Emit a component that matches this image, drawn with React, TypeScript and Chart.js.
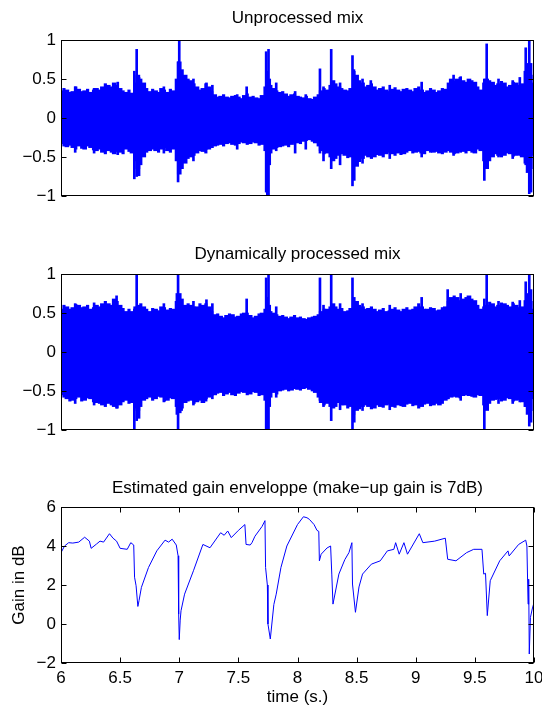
import React, { useEffect, useRef } from 'react';
import { Chart, registerables } from 'chart.js';

Chart.register(...registerables);

// ---------- data ----------
const sampleTimes = [
  6.00, 6.05, 6.10, 6.15, 6.20, 6.25, 6.30, 6.35, 6.40, 6.45,
  6.50, 6.55, 6.60, 6.65, 6.70, 6.75, 6.80, 6.85, 6.90, 6.95,
  7.00, 7.05, 7.10, 7.15, 7.20, 7.25, 7.30, 7.35, 7.40, 7.45,
  7.50, 7.55, 7.60, 7.65, 7.70, 7.75, 7.80, 7.85, 7.90, 7.95,
  8.00, 8.05, 8.10, 8.15, 8.20, 8.25, 8.30, 8.35, 8.40, 8.45,
  8.50, 8.55, 8.60, 8.65, 8.70, 8.75, 8.80, 8.85, 8.90, 8.95,
  9.00, 9.05, 9.10, 9.15, 9.20, 9.25, 9.30, 9.35, 9.40, 9.45,
  9.50, 9.55, 9.60, 9.65, 9.70, 9.75, 9.80, 9.85, 9.90, 9.95,
  10.00,
];
const midTimes = [
  6.025, 6.075, 6.125, 6.175, 6.225, 6.275, 6.325, 6.375, 6.425, 6.475,
  6.525, 6.575, 6.625, 6.675, 6.725, 6.775, 6.825, 6.875, 6.925, 6.975,
  7.025, 7.075, 7.125, 7.175, 7.225, 7.275, 7.325, 7.375, 7.425, 7.475,
  7.525, 7.575, 7.625, 7.675, 7.725, 7.775, 7.825, 7.875, 7.925, 7.975,
  8.025, 8.075, 8.125, 8.175, 8.225, 8.275, 8.325, 8.375, 8.425, 8.475,
  8.525, 8.575, 8.625, 8.675, 8.725, 8.775, 8.825, 8.875, 8.925, 8.975,
  9.025, 9.075, 9.125, 9.175, 9.225, 9.275, 9.325, 9.375, 9.425, 9.475,
  9.525, 9.575, 9.625, 9.675, 9.725, 9.775, 9.825, 9.875, 9.925, 9.975,
];

const unprocessedUpper = [
  0.35, 0.36, 0.34, 0.37, 0.35, 0.33, 0.38, 0.40, 0.42, 0.45,
  0.38, 0.33, 0.32, 0.55, 0.45, 0.34, 0.35, 0.38, 0.33, 0.35,
  0.72, 0.55, 0.48, 0.40, 0.38, 0.40, 0.30, 0.28, 0.27, 0.28,
  0.27, 0.29, 0.27, 0.26, 0.29, 0.45, 0.38, 0.33, 0.31, 0.30,
  0.28, 0.26, 0.25, 0.27, 0.35, 0.36, 0.48, 0.40, 0.36, 0.38,
  0.55, 0.45, 0.42, 0.40, 0.38, 0.36, 0.37, 0.36, 0.37, 0.36,
  0.38, 0.36, 0.35, 0.36, 0.35, 0.37, 0.50, 0.50, 0.48, 0.50,
  0.46, 0.36, 0.50, 0.46, 0.44, 0.45, 0.42, 0.45, 0.44, 0.70,
  0.45,
];
const unprocessedLower = [
  -0.33, -0.37, -0.38, -0.36, -0.40, -0.38, -0.42, -0.44, -0.42, -0.46,
  -0.44, -0.40, -0.45, -0.65, -0.50, -0.42, -0.42, -0.40, -0.42, -0.40,
  -0.72, -0.58, -0.50, -0.45, -0.43, -0.40, -0.36, -0.34, -0.33, -0.34,
  -0.33, -0.32, -0.33, -0.32, -0.34, -0.50, -0.40, -0.37, -0.35, -0.34,
  -0.32, -0.30, -0.28, -0.32, -0.42, -0.45, -0.55, -0.48, -0.48, -0.50,
  -0.62, -0.52, -0.50, -0.50, -0.48, -0.46, -0.46, -0.45, -0.46, -0.42,
  -0.44, -0.45, -0.42, -0.44, -0.45, -0.44, -0.44, -0.45, -0.43, -0.42,
  -0.45, -0.42, -0.65, -0.50, -0.48, -0.48, -0.46, -0.48, -0.50, -0.70,
  -0.48,
];
const unprocessedMidUpper = [
  0.38, 0.33, 0.40, 0.34, 0.37, 0.36, 0.36, 0.44, 0.40, 0.42,
  0.35, 0.36, 0.45, 0.50, 0.38, 0.37, 0.33, 0.36, 0.37, 0.50,
  0.62, 0.50, 0.44, 0.36, 0.44, 0.34, 0.27, 0.30, 0.26, 0.29,
  0.25, 0.31, 0.28, 0.25, 0.40, 0.42, 0.35, 0.34, 0.28, 0.31,
  0.27, 0.28, 0.24, 0.30, 0.38, 0.42, 0.44, 0.38, 0.35, 0.62,
  0.48, 0.40, 0.44, 0.36, 0.40, 0.34, 0.39, 0.34, 0.38, 0.34,
  0.40, 0.33, 0.38, 0.33, 0.38, 0.45, 0.47, 0.52, 0.46, 0.48,
  0.40, 0.45, 0.48, 0.42, 0.47, 0.40, 0.46, 0.42, 0.60, 0.55,
];
const unprocessedMidLower = [
  -0.36, -0.35, -0.40, -0.39, -0.36, -0.41, -0.40, -0.46, -0.44, -0.43,
  -0.46, -0.43, -0.55, -0.60, -0.44, -0.40, -0.44, -0.38, -0.44, -0.55,
  -0.65, -0.52, -0.48, -0.42, -0.45, -0.38, -0.35, -0.36, -0.32, -0.35,
  -0.31, -0.34, -0.31, -0.35, -0.42, -0.45, -0.38, -0.36, -0.37, -0.32,
  -0.33, -0.29, -0.30, -0.36, -0.46, -0.50, -0.52, -0.46, -0.51, -0.58,
  -0.56, -0.48, -0.52, -0.47, -0.50, -0.44, -0.48, -0.47, -0.44, -0.45,
  -0.43, -0.46, -0.44, -0.43, -0.46, -0.42, -0.46, -0.43, -0.45, -0.44,
  -0.40, -0.55, -0.55, -0.46, -0.50, -0.45, -0.49, -0.47, -0.58, -0.65,
];
const unprocessedPeakTimes = [
  6.12, 6.28, 6.48, 6.62, 6.64, 6.66, 6.87, 6.99, 7.00, 7.02,
  7.12, 7.23, 7.28, 7.49, 7.57, 7.735, 7.745, 7.755, 7.765, 7.82,
  7.98, 8.07, 8.19, 8.22, 8.285, 8.36, 8.465, 8.48, 8.55, 8.62,
  8.78, 9.05, 9.32, 9.38, 9.58, 9.60, 9.70, 9.82, 9.88, 9.93,
  9.96, 9.975,
];
const unprocessedPeakUpper = [
  0.40, 0.38, 0.46, 0.60, 0.88, 0.52, 0.40, 0.72, 1.00, 0.60,
  0.50, 0.45, 0.42, 0.30, 0.40, 0.85, 0.60, 0.88, 0.50, 0.45,
  0.34, 0.30, 0.63, 0.40, 0.88, 0.45, 0.80, 0.60, 0.50, 0.48,
  0.42, 0.46, 0.55, 0.53, 0.50, 0.95, 0.50, 0.48, 0.52, 0.90,
  1.00, 0.70,
];
const unprocessedPeakLower = [
  -0.44, -0.45, -0.47, -0.78, -0.75, -0.74, -0.45, -0.82, -0.70, -0.62,
  -0.55, -0.40, -0.38, -0.40, -0.30, -0.95, -1.00, -1.00, -0.60, -0.42,
  -0.45, -0.40, -0.45, -0.55, -0.65, -0.60, -0.87, -0.80, -0.58, -0.45,
  -0.52, -0.50, -0.48, -0.44, -0.80, -0.45, -0.50, -0.52, -0.48, -0.60,
  -0.97, -0.95,
];

const processedUpper = [
  0.55, 0.58, 0.57, 0.60, 0.58, 0.55, 0.60, 0.62, 0.62, 0.68,
  0.60, 0.52, 0.52, 0.58, 0.58, 0.52, 0.55, 0.58, 0.54, 0.55,
  0.75, 0.60, 0.60, 0.58, 0.60, 0.58, 0.48, 0.46, 0.47, 0.48,
  0.46, 0.50, 0.47, 0.46, 0.50, 0.55, 0.50, 0.46, 0.45, 0.45,
  0.44, 0.43, 0.44, 0.46, 0.52, 0.55, 0.62, 0.55, 0.52, 0.56,
  0.65, 0.58, 0.56, 0.55, 0.54, 0.52, 0.55, 0.54, 0.55, 0.54,
  0.58, 0.58, 0.55, 0.56, 0.54, 0.58, 0.70, 0.70, 0.68, 0.72,
  0.66, 0.55, 0.60, 0.62, 0.60, 0.62, 0.58, 0.60, 0.58, 0.75,
  0.55,
];
const processedLower = [
  -0.55, -0.60, -0.62, -0.58, -0.62, -0.60, -0.65, -0.68, -0.66, -0.70,
  -0.68, -0.62, -0.65, -0.75, -0.62, -0.58, -0.60, -0.58, -0.62, -0.60,
  -0.78, -0.65, -0.62, -0.64, -0.65, -0.58, -0.55, -0.52, -0.54, -0.55,
  -0.53, -0.52, -0.54, -0.52, -0.55, -0.60, -0.52, -0.50, -0.48, -0.49,
  -0.48, -0.47, -0.48, -0.52, -0.65, -0.66, -0.72, -0.65, -0.68, -0.70,
  -0.75, -0.70, -0.70, -0.72, -0.70, -0.68, -0.70, -0.68, -0.70, -0.66,
  -0.68, -0.70, -0.66, -0.68, -0.68, -0.62, -0.58, -0.58, -0.56, -0.56,
  -0.58, -0.56, -0.75, -0.62, -0.60, -0.62, -0.60, -0.62, -0.64, -0.80,
  -0.60,
];
const processedMidUpper = [
  0.60, 0.55, 0.61, 0.57, 0.60, 0.57, 0.58, 0.65, 0.60, 0.65,
  0.56, 0.55, 0.58, 0.62, 0.55, 0.56, 0.53, 0.57, 0.56, 0.65,
  0.68, 0.62, 0.58, 0.62, 0.62, 0.52, 0.49, 0.44, 0.49, 0.45,
  0.49, 0.50, 0.44, 0.49, 0.55, 0.52, 0.48, 0.47, 0.43, 0.47,
  0.45, 0.42, 0.45, 0.48, 0.55, 0.58, 0.58, 0.56, 0.53, 0.62,
  0.60, 0.55, 0.58, 0.52, 0.56, 0.53, 0.57, 0.52, 0.57, 0.55,
  0.62, 0.55, 0.57, 0.53, 0.57, 0.65, 0.72, 0.66, 0.70, 0.68,
  0.60, 0.58, 0.64, 0.58, 0.63, 0.60, 0.62, 0.57, 0.66, 0.65,
];
const processedMidLower = [
  -0.58, -0.63, -0.60, -0.63, -0.59, -0.64, -0.66, -0.70, -0.68, -0.72,
  -0.64, -0.66, -0.72, -0.70, -0.60, -0.62, -0.57, -0.63, -0.59, -0.70,
  -0.72, -0.63, -0.66, -0.62, -0.63, -0.56, -0.53, -0.56, -0.52, -0.56,
  -0.51, -0.55, -0.51, -0.56, -0.62, -0.58, -0.54, -0.49, -0.50, -0.47,
  -0.49, -0.46, -0.50, -0.58, -0.68, -0.70, -0.70, -0.68, -0.72, -0.80,
  -0.73, -0.68, -0.73, -0.68, -0.71, -0.67, -0.71, -0.69, -0.67, -0.69,
  -0.72, -0.67, -0.69, -0.66, -0.66, -0.60, -0.57, -0.59, -0.55, -0.57,
  -0.55, -0.68, -0.66, -0.61, -0.63, -0.59, -0.63, -0.61, -0.70, -0.75,
];
const processedPeakTimes = [
  6.12, 6.28, 6.47, 6.62, 6.64, 6.66, 6.87, 6.98, 6.99, 7.02,
  7.12, 7.23, 7.28, 7.57, 7.735, 7.745, 7.755, 7.765, 7.82, 8.19,
  8.22, 8.285, 8.36, 8.465, 8.48, 8.55, 8.78, 9.05, 9.27, 9.38,
  9.58, 9.60, 9.70, 9.82, 9.88, 9.93, 9.96, 9.975,
];
const processedPeakUpper = [
  0.62, 0.63, 0.72, 0.55, 1.00, 0.60, 0.62, 0.75, 1.00, 0.65,
  0.65, 0.67, 0.62, 0.68, 0.95, 0.70, 1.00, 0.60, 0.58, 0.95,
  0.60, 1.00, 0.62, 0.95, 0.70, 0.62, 0.60, 0.70, 0.80, 0.75,
  0.68, 1.00, 0.65, 0.64, 0.66, 0.90, 1.00, 0.80,
];
const processedPeakLower = [
  -0.66, -0.68, -0.72, -1.00, -0.88, -0.85, -0.64, -0.80, -1.00, -0.75,
  -0.68, -0.60, -0.60, -0.50, -1.00, -1.00, -1.00, -0.70, -0.58, -0.62,
  -0.70, -0.88, -0.74, -1.00, -0.90, -0.75, -0.74, -0.65, -0.60, -0.62,
  -1.00, -0.65, -0.66, -0.66, -0.64, -0.70, -0.95, -0.90,
];

const gainTimes = [
  6.0, 6.03, 6.065, 6.1, 6.15, 6.2, 6.24, 6.255, 6.3, 6.33,
  6.36, 6.41, 6.44, 6.47, 6.5, 6.56, 6.59, 6.615, 6.622, 6.635,
  6.65, 6.66, 6.68, 6.74, 6.81, 6.88, 6.91, 6.94, 6.975, 6.99,
  6.995, 7.0, 7.008, 7.015, 7.045, 7.12, 7.2, 7.26, 7.35, 7.38,
  7.41, 7.44, 7.5, 7.555, 7.565, 7.6, 7.615, 7.64, 7.7, 7.725,
  7.73, 7.745, 7.75, 7.77, 7.8, 7.82, 7.86, 7.91, 8.0, 8.05,
  8.08, 8.1, 8.14, 8.165, 8.18, 8.185, 8.2, 8.25, 8.28, 8.29,
  8.3, 8.35, 8.4, 8.435, 8.46, 8.465, 8.49, 8.52, 8.55, 8.625,
  8.7, 8.76, 8.815, 8.83, 8.86, 8.9, 8.93, 9.03, 9.06, 9.16,
  9.25, 9.27, 9.34, 9.43, 9.49, 9.56, 9.575, 9.59, 9.605, 9.63,
  9.71, 9.78, 9.79, 9.87, 9.93, 9.94, 9.95, 9.955, 9.96, 9.97,
  9.985, 10.0,
];
const gainDb = [
  3.66, 4.0, 4.17, 4.15, 4.2, 4.45, 4.25, 3.88, 4.1, 4.25,
  4.2, 4.63, 4.4, 4.25, 3.88, 3.83, 4.17, 4.05, 2.4, 1.96,
  0.9, 1.2, 1.88, 2.9, 3.75, 4.3, 4.2, 4.35, 4.05, 3.5,
  0.5, -0.8, 0.2, 0.68, 1.53, 2.73, 4.08, 3.91, 4.68, 4.55,
  4.77, 4.43, 4.8, 5.1, 4.08, 4.05, 4.17, 4.5, 5.0, 5.3,
  2.9, 2.0, 0.0, -0.77, 1.0, 1.53, 2.9, 4.0, 5.1, 5.5,
  5.45, 5.37, 5.1, 4.8, 4.75, 3.24, 3.58, 3.9, 4.0, 2.56,
  1.02, 2.56, 3.3, 3.66, 4.17, 2.05, 0.6, 1.9, 2.56, 3.07,
  3.24, 3.75, 3.83, 4.17, 3.58, 4.17, 3.58, 4.63, 4.17, 4.25,
  4.4, 3.32, 3.24, 3.66, 3.83, 3.83, 2.56, 2.6, 0.43, 2.22,
  3.24, 3.75, 3.49, 4.08, 4.3, 4.0, 1.02, 2.3, -1.54, 0.34,
  0.77, 1.1,
];

const timeTicks = [6, 6.5, 7, 7.5, 8, 8.5, 9, 9.5, 10];
const waveTicks = [-1, -0.5, 0, 0.5, 1];
const gainTicks = [-2, 0, 2, 4, 6];

const titleUnprocessed = 'Unprocessed mix';
const titleProcessed = 'Dynamically processed mix';
const titleGain = 'Estimated gain enveloppe (make\u2212up gain is 7dB)';
const xAxisTitle = 'time (s.)';
const yAxisTitle = 'Gain in dB';

// ---------- styling ----------
const BLUE = '#0000ff';
const FONT = '"Liberation Sans", Arial, Helvetica, sans-serif';
const FS = 17;

const fmt = (v: number) => (v < 0 ? '\u2212' + String(-v) : String(v));

const framePlugin = {
  id: 'frame',
  afterDatasetsDraw(chart: any, _args: any, opts: any) {
    const { ctx, chartArea: a } = chart;
    const l = Math.round(a.left) + 0.5;
    const r = Math.round(a.right) - 0.5;
    const t = Math.round(a.top) + 0.5;
    const b = Math.round(a.bottom) - 0.5;
    const len = 5;
    ctx.save();
    ctx.strokeStyle = '#000';
    ctx.lineWidth = 1;
    ctx.beginPath();
    (opts.yTicks || []).forEach((v: number) => {
      const p = Math.round(chart.scales.y.getPixelForValue(v)) + 0.5;
      ctx.moveTo(l, p); ctx.lineTo(l + len, p);
      ctx.moveTo(r, p); ctx.lineTo(r - len, p);
    });
    (opts.xTicks || []).forEach((v: number) => {
      const p = Math.round(chart.scales.x.getPixelForValue(v)) + 0.5;
      ctx.moveTo(p, b); ctx.lineTo(p, b - len);
      ctx.moveTo(p, t); ctx.lineTo(p, t + len);
    });
    ctx.stroke();
    ctx.strokeRect(l, t, r - l, b - t);
    ctx.restore();
  },
};

const band = (times: number[], lo: number[], hi: number[], thickness: number) => ({
  data: times.map((t, i) => ({ x: t, y: [lo[i], hi[i]] })),
  backgroundColor: BLUE,
  borderWidth: 0,
  barThickness: thickness,
  grouped: false,
});

function waveConfig(
  upper: number[], lower: number[],
  midHi: number[], midLo: number[],
  peakT: number[], peakHi: number[], peakLo: number[],
  padTop: number, padBottom: number,
): any {
  return {
    type: 'bar',
    data: {
      datasets: [
        band(sampleTimes, lower, upper, 4),
        band(midTimes, midLo, midHi, 2.5),
        band(peakT, peakLo, peakHi, 2),
      ],
    },
    options: {
      animation: false,
      responsive: false,
      events: [],
      layout: { padding: { left: 0, right: 8, top: padTop, bottom: padBottom } },
      plugins: {
        legend: { display: false },
        tooltip: { enabled: false },
        frame: { yTicks: waveTicks, xTicks: [] },
      },
      scales: {
        x: { type: 'linear', min: 6, max: 10, offset: false, display: false },
        y: {
          type: 'linear', min: -1, max: 1,
          grid: { display: false, drawTicks: false },
          border: { display: false },
          afterBuildTicks: (s: any) => { s.ticks = waveTicks.map((v) => ({ value: v })); },
          afterFit: (s: any) => { s.width = 61; s.paddingTop = 0; s.paddingBottom = 0; },
          ticks: { color: '#000', font: { family: FONT, size: FS }, padding: 5, callback: (v: number) => fmt(v) },
        },
      },
    },
    plugins: [framePlugin],
  };
}

function gainConfig(): any {
  return {
    type: 'line',
    data: {
      datasets: [{
        data: gainTimes.map((t, i) => ({ x: t, y: gainDb[i] })),
        borderColor: BLUE, borderWidth: 1, pointRadius: 0, tension: 0, fill: false,
      }],
    },
    options: {
      animation: false,
      responsive: false,
      events: [],
      layout: { padding: { left: 0, right: 8, top: 42, bottom: 0 } },
      plugins: {
        legend: { display: false },
        tooltip: { enabled: false },
        frame: { yTicks: gainTicks, xTicks: timeTicks },
      },
      scales: {
        x: {
          type: 'linear', min: 6, max: 10, offset: false,
          grid: { display: false, drawTicks: false },
          border: { display: false },
          afterBuildTicks: (s: any) => { s.ticks = timeTicks.map((v) => ({ value: v })); },
          afterFit: (s: any) => { s.height = 43; s.paddingLeft = 0; s.paddingRight = 0; },
          ticks: { color: '#000', font: { family: FONT, size: FS }, padding: 5, autoSkip: false, maxRotation: 0, callback: (v: number) => fmt(v) },
          title: { display: true, text: xAxisTitle, color: '#000', font: { family: FONT, size: FS, lineHeight: 1 }, padding: { top: 0, bottom: 0 } },
        },
        y: {
          type: 'linear', min: -2, max: 6,
          grid: { display: false, drawTicks: false },
          border: { display: false },
          afterBuildTicks: (s: any) => { s.ticks = gainTicks.map((v) => ({ value: v })); },
          afterFit: (s: any) => { s.width = 61; s.paddingTop = 0; s.paddingBottom = 0; },
          ticks: { color: '#000', font: { family: FONT, size: FS }, padding: 5, callback: (v: number) => fmt(v) },
          title: { display: true, text: yAxisTitle, color: '#000', font: { family: FONT, size: FS, lineHeight: 1 }, padding: { top: 11, bottom: 0 } },
        },
      },
    },
    plugins: [framePlugin],
  };
}

const titleStyle = (top: number): React.CSSProperties => ({
  position: 'absolute', left: 61, width: 473, top, textAlign: 'center',
  fontFamily: FONT, fontSize: FS, lineHeight: '20px', color: '#000', whiteSpace: 'nowrap',
});

export default function App() {
  const c1 = useRef<HTMLCanvasElement>(null);
  const c2 = useRef<HTMLCanvasElement>(null);
  const c3 = useRef<HTMLCanvasElement>(null);

  useEffect(() => {
    const charts = [
      new Chart(c1.current!, waveConfig(unprocessedUpper, unprocessedLower, unprocessedMidUpper, unprocessedMidLower,
        unprocessedPeakTimes, unprocessedPeakUpper, unprocessedPeakLower, 40, 34)),
      new Chart(c2.current!, waveConfig(processedUpper, processedLower, processedMidUpper, processedMidLower,
        processedPeakTimes, processedPeakUpper, processedPeakLower, 44, 35)),
      new Chart(c3.current!, gainConfig()),
    ];
    return () => charts.forEach((c) => c.destroy());
  }, []);

  return (
    <div style={{ position: 'absolute', left: 0, top: 0, width: 542, height: 706, background: '#fff', overflow: 'hidden' }}>
      <canvas ref={c1} width={542} height={230} style={{ position: 'absolute', left: 0, top: 0, width: 542, height: 230 }} />
      <canvas ref={c2} width={542} height={235} style={{ position: 'absolute', left: 0, top: 230, width: 542, height: 235 }} />
      <canvas ref={c3} width={542} height={241} style={{ position: 'absolute', left: 0, top: 465, width: 542, height: 241 }} />
      <div style={titleStyle(8)}>{titleUnprocessed}</div>
      <div style={titleStyle(244)}>{titleProcessed}</div>
      <div style={titleStyle(478)}>{titleGain}</div>
    </div>
  );
}
